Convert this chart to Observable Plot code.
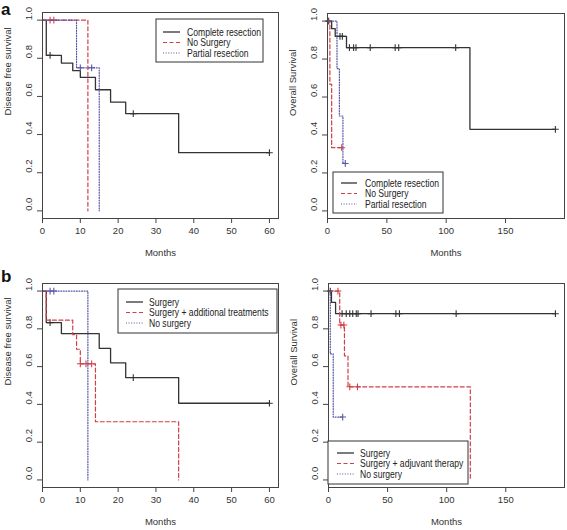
<!DOCTYPE html>
<html><head><meta charset="utf-8">
<script src="https://cdn.jsdelivr.net/npm/d3@7"></script>
<script src="https://cdn.jsdelivr.net/npm/@observablehq/plot@0.6"></script>
<style>
body{margin:0;background:#fff;width:567px;height:530px;position:relative;overflow:hidden;font-family:"Liberation Sans",Arial,sans-serif;}
.panel{position:absolute;}
.tag{position:absolute;font:bold 17px "Liberation Sans",Arial,sans-serif;color:#111;line-height:normal;z-index:2;}
</style></head><body>
<div class="tag" style="left:1px;top:0px">a</div>
<div class="tag" style="left:1px;top:267px">b</div>
<script>
// ---------- tick labels ----------
const monthTicksDfs = [0, 10, 20, 30, 40, 50, 60];
const monthTicksOs = [0, 50, 100, 150];
const survTicks = [0, 0.2, 0.4, 0.6, 0.8, 1.0];

// ---------- panel a : DFS ----------
const aDfsCompleteT = [0, 1, 5, 8, 10, 14, 18, 22, 36, 60];
const aDfsCompleteS = [1, 0.815, 0.775, 0.735, 0.70, 0.635, 0.57, 0.51, 0.305, 0.305];
const aDfsCompleteC = [2, 24, 60];
const aDfsNoSurgT = [0, 12];
const aDfsNoSurgS = [1, 0];
const aDfsNoSurgC = [2, 3];
const aDfsPartialT = [0, 9, 15];
const aDfsPartialS = [1, 0.75, 0];
const aDfsPartialC = [10, 13];

// ---------- panel a : OS ----------
const aOsCompleteT = [0, 3.5, 6.5, 16, 120, 192];
const aOsCompleteS = [1, 0.96, 0.92, 0.86, 0.43, 0.43];
const aOsCompleteC = [1, 10.5, 12.5, 18.5, 22, 24, 36, 57, 60, 108, 192];
const aOsNoSurgT = [0, 2, 3.5, 12];
const aOsNoSurgS = [1, 0.667, 0.333, 0.333];
const aOsNoSurgC = [12];
const aOsPartialT = [0, 8, 10, 13, 15];
const aOsPartialS = [1, 0.75, 0.5, 0.25, 0.25];
const aOsPartialC = [15];

// ---------- panel b : DFS ----------
const bDfsSurgT = [0, 1, 5, 15, 18, 22, 36, 60];
const bDfsSurgS = [1, 0.833, 0.775, 0.697, 0.62, 0.542, 0.406, 0.406];
const bDfsSurgC = [2, 24, 60];
const bDfsAddT = [0, 1, 8, 9, 10, 14, 36];
const bDfsAddS = [1, 0.846, 0.769, 0.692, 0.615, 0.308, 0];
const bDfsAddC = [10, 11.5, 13];
const bDfsNoSurgT = [0, 12];
const bDfsNoSurgS = [1, 0];
const bDfsNoSurgC = [2, 3];

// ---------- panel b : OS ----------
const bOsSurgT = [0, 2.5, 6, 192];
const bOsSurgS = [1, 0.94, 0.88, 0.88];
const bOsSurgC = [1.5, 11.5, 15, 18, 20.5, 23.5, 25, 36, 57, 60, 108, 192];
const bOsAdjT = [0, 9.5, 13.5, 16.5, 120];
const bOsAdjS = [1, 0.82, 0.657, 0.493, 0];
const bOsAdjC = [8, 10.5, 13, 18, 24.5];
const bOsNoSurgT = [0, 1.5, 4, 12];
const bOsNoSurgS = [1, 0.667, 0.333, 0.333];
const bOsNoSurgC = [12];

// ---------- styles ----------
const BLACK = "#333", RED = "#d0404a", BLUE = "#5656a6";
const styles = {
  solid: {stroke: BLACK, dash: null, width: 1.3},
  dashed: {stroke: RED, dash: "4,2.5", width: 1.2},
  dotted: {stroke: BLUE, dash: "1,1.6", width: 1.2}
};
const FONT = '"Liberation Sans", Arial, sans-serif';

function survAt(T, S, t) {
  const i = d3.bisectRight(T, t) - 1;
  return S[Math.max(0, i)];
}

function panel(cfg) {
  const marks = [];
  for (const s of cfg.series) {
    const st = styles[s.style];
    const pts = s.T.map((t, i) => ({t, s: s.S[i]}));
    const cens = s.C.map(t => ({t, s: survAt(s.T, s.S, t)}));
    marks.push(Plot.line(pts, {x: "t", y: "s", curve: "step-after", stroke: st.stroke,
      strokeDasharray: st.dash, strokeWidth: st.width}));
    marks.push(Plot.dot(cens, {x: "t", y: "s", symbol: "plus", r: 2.3, stroke: st.stroke, strokeWidth: 1.1}));
  }
  marks.push(Plot.axisX(cfg.xTicks, {tickSize: 5, tickPadding: 4, fontSize: 9.5, label: null, stroke: "#444", color: "#333"}));
  marks.push(Plot.axisY(survTicks, {tickSize: 5, text: null, label: null, stroke: "#444"}));
  marks.push(Plot.text(survTicks, {y: d => d, text: d3.format(".1f"), frameAnchor: "left", dx: -14,
    rotate: -90, fontSize: 9.5, fill: "#333"}));
  marks.push(Plot.text([cfg.xLabel], {frameAnchor: "bottom", dy: 37, fontSize: 9.5, fill: "#333"}));
  marks.push(Plot.text([cfg.yLabel], {frameAnchor: "left", dx: -35, rotate: -90, fontSize: 9.5, fill: "#333"}));
  marks.push(Plot.frame({stroke: "#444", strokeWidth: 1}));

  const svg = Plot.plot({
    width: cfg.w, height: cfg.h,
    marginLeft: cfg.m[0], marginRight: cfg.m[1], marginTop: cfg.m[2], marginBottom: cfg.m[3],
    x: {domain: [0, cfg.xMax * 1.04], axis: null},
    y: {domain: [-0.04, 1.04], axis: null},
    style: {fontFamily: FONT, background: "transparent", overflow: "visible"},
    marks
  });

  // legend box
  const lg = cfg.legend;
  const g = d3.select(svg).append("g").attr("font-family", FONT).attr("font-size", 10)
    .attr("text-anchor", "start");
  g.append("rect").attr("x", lg.x).attr("y", lg.y).attr("width", lg.w).attr("height", lg.h)
    .attr("fill", "#fff").attr("stroke", "#333").attr("stroke-width", 1);
  cfg.series.forEach((s, i) => {
    const st = styles[s.style];
    const yy = lg.rowY + i * lg.rowH;
    g.append("line").attr("x1", lg.x + lg.sx0).attr("x2", lg.x + lg.sx1).attr("y1", yy).attr("y2", yy)
      .attr("stroke", st.stroke).attr("stroke-width", st.width).attr("stroke-dasharray", st.dash);
    g.append("text").attr("transform", `translate(${lg.x + lg.tx},${yy}) scale(0.86,1)`)
      .attr("dy", "0.35em").attr("text-anchor", "start").attr("fill", "#222").text(s.name);
  });

  const div = document.createElement("div");
  div.className = "panel";
  div.style.left = cfg.left + "px";
  div.style.top = cfg.top + "px";
  div.appendChild(svg);
  document.body.appendChild(div);
}

panel({
  left: 0, top: 0, w: 283, h: 262, m: [42, 5, 12, 44], xMax: 60, xTicks: monthTicksDfs,
  xLabel: "Months", yLabel: "Disease free survival",
  legend: {x: 156, y: 19, w: 107, h: 43, rowY: 32, rowH: 10.5, sx0: 7, sx1: 24, tx: 31},
  series: [
    {name: "Complete resection", style: "solid", T: aDfsCompleteT, S: aDfsCompleteS, C: aDfsCompleteC},
    {name: "No Surgery", style: "dashed", T: aDfsNoSurgT, S: aDfsNoSurgS, C: aDfsNoSurgC},
    {name: "Partial resection", style: "dotted", T: aDfsPartialT, S: aDfsPartialS, C: aDfsPartialC}
  ]
});
panel({
  left: 283, top: 0, w: 284, h: 262, m: [44, 3, 13, 44], xMax: 192, xTicks: monthTicksOs,
  xLabel: "Months", yLabel: "Overall Survival",
  legend: {x: 50, y: 172, w: 110, h: 41, rowY: 183, rowH: 10.5, sx0: 8, sx1: 24, tx: 32},
  series: [
    {name: "Complete resection", style: "solid", T: aOsCompleteT, S: aOsCompleteS, C: aOsCompleteC},
    {name: "No Surgery", style: "dashed", T: aOsNoSurgT, S: aOsNoSurgS, C: aOsNoSurgC},
    {name: "Partial resection", style: "dotted", T: aOsPartialT, S: aOsPartialS, C: aOsPartialC}
  ]
});
panel({
  left: 0, top: 262, w: 283, h: 268, m: [42, 5, 21, 43], xMax: 60, xTicks: monthTicksDfs,
  xLabel: "Months", yLabel: "Disease free survival",
  legend: {x: 118, y: 27, w: 159, h: 44, rowY: 40, rowH: 10.5, sx0: 8, sx1: 25, tx: 31},
  series: [
    {name: "Surgery", style: "solid", T: bDfsSurgT, S: bDfsSurgS, C: bDfsSurgC},
    {name: "Surgery + additional treatments", style: "dashed", T: bDfsAddT, S: bDfsAddS, C: bDfsAddC},
    {name: "No surgery", style: "dotted", T: bDfsNoSurgT, S: bDfsNoSurgS, C: bDfsNoSurgC}
  ]
});
panel({
  left: 283, top: 262, w: 284, h: 268, m: [45, 3, 21, 43], xMax: 192, xTicks: monthTicksOs,
  xLabel: "Months", yLabel: "Overall Survival",
  legend: {x: 45, y: 179, w: 140, h: 43, rowY: 191, rowH: 10.5, sx0: 9, sx1: 26, tx: 32},
  series: [
    {name: "Surgery", style: "solid", T: bOsSurgT, S: bOsSurgS, C: bOsSurgC},
    {name: "Surgery + adjuvant therapy", style: "dashed", T: bOsAdjT, S: bOsAdjS, C: bOsAdjC},
    {name: "No surgery", style: "dotted", T: bOsNoSurgT, S: bOsNoSurgS, C: bOsNoSurgC}
  ]
});
</script>
</body></html>
